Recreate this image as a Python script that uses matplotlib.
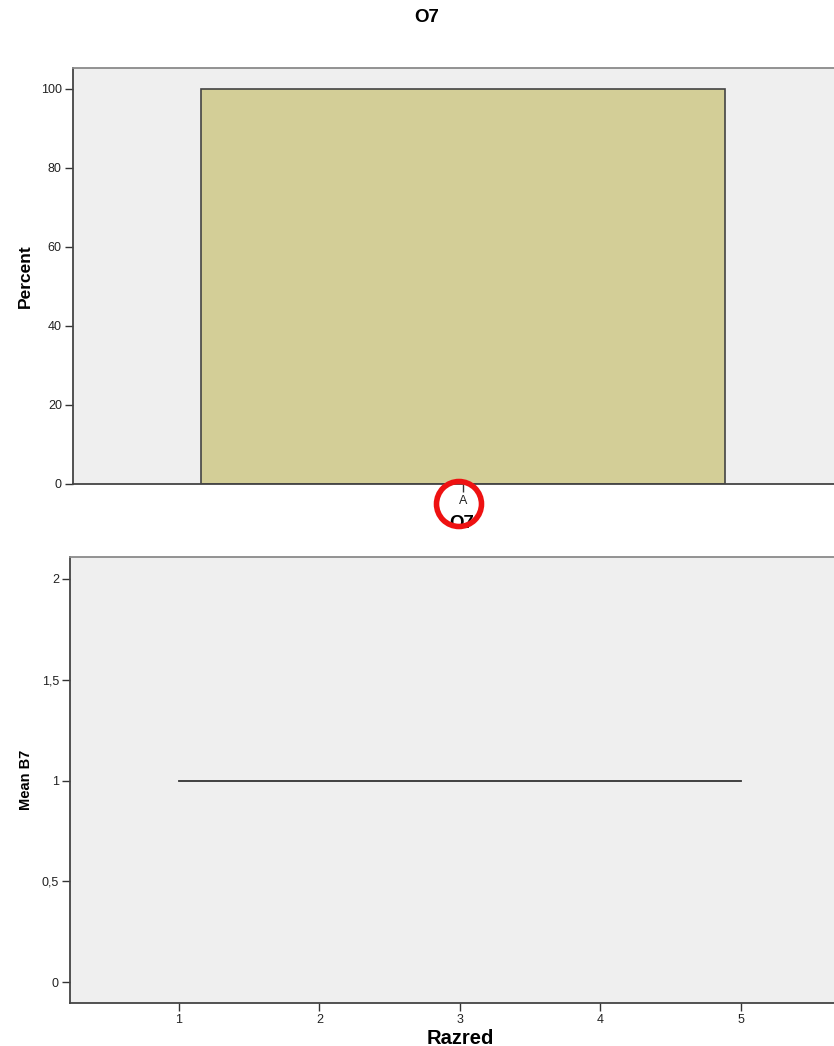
#!/usr/bin/env python

import matplotlib
matplotlib.use('Agg')
from matplotlib import pyplot as plt
from matplotlib.patches import Circle, Rectangle
from matplotlib.ticker import FuncFormatter

# top chart: percent per category of O7
categories = ['A']
percent = [100]

# bottom chart: mean B7 by Razred
razred = [1, 2, 3, 4, 5]
mean_b7 = [1, 1, 1, 1, 1]

title = 'O7'

plt.rcParams['font.family'] = ['Liberation Sans', 'DejaVu Sans']

BG = '#efefef'
BAR = '#d3ce97'
EDGE = '#444444'

def style_axes(ax):
    ax.set_facecolor(BG)
    ax.spines['left'].set_color('#444444')
    ax.spines['bottom'].set_color('#444444')
    ax.spines['top'].set_color('#8a8a8a')
    ax.spines['right'].set_visible(False)
    for s in ('left', 'bottom', 'top'):
        ax.spines[s].set_linewidth(1.3)
    ax.tick_params(direction='out', length=6, width=1, colors='#333333',
                   labelsize=9, labelcolor='#222222', pad=2)

def comma(v, pos):
    s = f'{v:g}'
    return s.replace('.', ',')

fig = plt.figure(figsize=(8.34, 10.46), dpi=100)

ax1 = fig.add_axes([0.0875, 0.5373, 0.935, 0.3977])
style_axes(ax1)
ax1.bar(range(len(categories)), percent, width=0.672, color=BAR,
        edgecolor=EDGE, linewidth=1.2)
ax1.set_xlim(-0.5, 0.5)
ax1.set_ylim(0, 105.3)
ax1.set_yticks([0, 20, 40, 60, 80, 100])
ax1.set_xticks(range(len(categories)))
ax1.set_xticklabels(categories)
ax1.set_ylabel('Percent', fontsize=12.5, fontweight='bold', labelpad=6)

ax2 = fig.add_axes([0.0839, 0.0411, 0.935, 0.4264])
style_axes(ax2)
ax2.plot(razred, mean_b7, color='#333333', linewidth=1.3)
ax2.set_xlim(0.224, 5.776)
ax2.set_ylim(-0.104, 2.109)
ax2.set_xticks(razred)
ax2.set_yticks([0, 0.5, 1, 1.5, 2])
ax2.yaxis.set_major_formatter(FuncFormatter(comma))
ax2.set_ylabel('Mean B7', fontsize=10.5, fontweight='bold', labelpad=6)
ax2.set_xlabel('Razred', fontsize=14.5, fontweight='bold', labelpad=2)

fig.text(427 / 834, 1 - 18 / 1046, title, ha='center', va='center',
         fontsize=13.5, fontweight='bold')
fig.text(462 / 834, 1 - 524 / 1046, title, ha='center', va='center',
         fontsize=13.5, fontweight='bold')

# the second title is cut off at the bottom
cover = Rectangle((0.3, 1 - 552 / 1046), 0.4, 22 / 1046,
                  transform=fig.transFigure, facecolor='white',
                  edgecolor='none', zorder=4)
fig.patches.append(cover)

# red highlight ring around the category label
ring = Circle((4.59, (1046 - 504) / 100), 0.225, transform=fig.dpi_scale_trans,
              fill=False, edgecolor='#ee1111', linewidth=4, zorder=5)
fig.patches.append(ring)

fig.savefig('out.png', dpi=100)
